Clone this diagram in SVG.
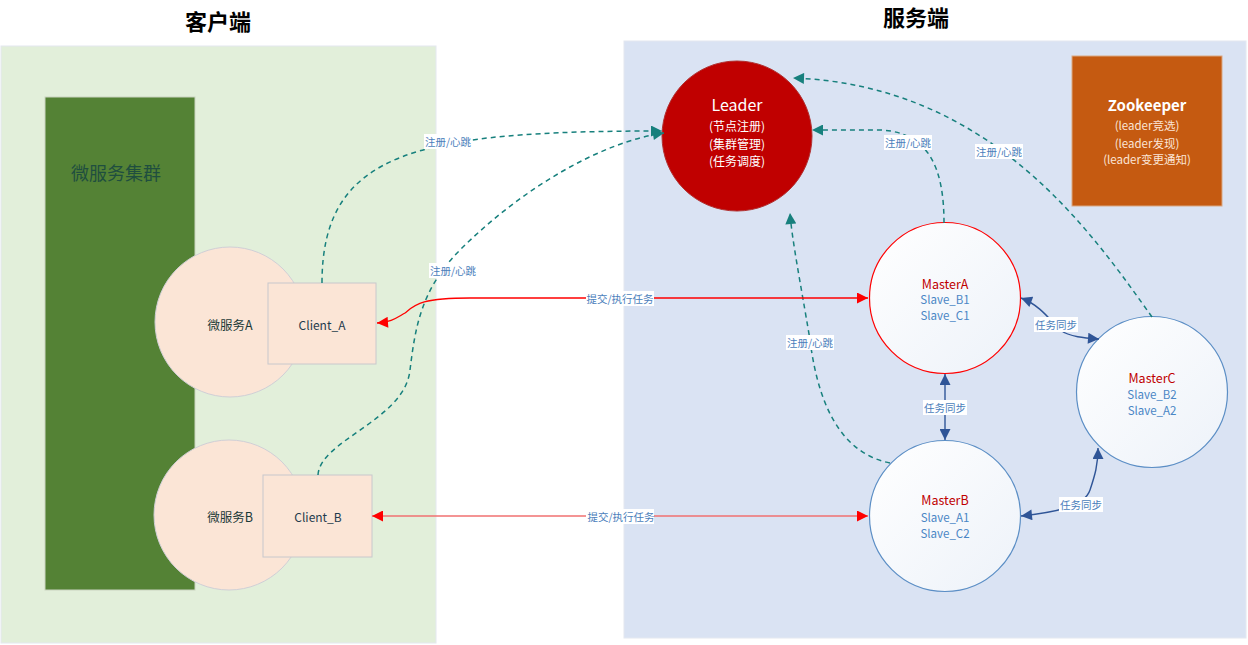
<svg xmlns="http://www.w3.org/2000/svg" width="1248" height="645" viewBox="0 0 1248 645">
<defs>
<style>
.title{font-family:"Noto Sans CJK SC",sans-serif;font-size:22px;font-weight:bold;fill:#000;text-anchor:middle}
.t{font-family:"Noto Sans CJK SC","Liberation Sans",sans-serif;text-anchor:middle;dominant-baseline:central}
.lbl{font-family:"Noto Sans CJK SC",sans-serif;font-size:10.5px;fill:#4a7ebb;text-anchor:middle;dominant-baseline:central}
.lbg{fill:#ffffff}
.dash{fill:none;stroke:#17807d;stroke-width:1.5;stroke-dasharray:5 4}
.red{fill:none;stroke:#ff0000;stroke-width:1.3}
.blue{fill:none;stroke:#2f5597;stroke-width:1.4}
.master{stroke-width:1.2}
</style>
<marker id="mt" viewBox="0 0 10 10" refX="10" refY="5" markerWidth="12" markerHeight="11" markerUnits="userSpaceOnUse" orient="auto-start-reverse"><path d="M0,0 L10,5 L0,10 Z" fill="#17807d"/></marker>
<marker id="mr" viewBox="0 0 10 10" refX="10" refY="5" markerWidth="12" markerHeight="11" markerUnits="userSpaceOnUse" orient="auto-start-reverse"><path d="M0,0 L10,5 L0,10 Z" fill="#ff0000"/></marker>
<marker id="mb" viewBox="0 0 10 10" refX="10" refY="5" markerWidth="12" markerHeight="11" markerUnits="userSpaceOnUse" orient="auto-start-reverse"><path d="M0,0 L10,5 L0,10 Z" fill="#2f5597"/></marker>
<linearGradient id="wg" x1="0" y1="0" x2="1" y2="1"><stop offset="0" stop-color="#ffffff"/><stop offset="1" stop-color="#edf2f9"/></linearGradient>
</defs>
<rect width="1248" height="645" fill="#ffffff"/>

<g id="client-panel">
<rect x="1" y="46" width="435" height="597" fill="#e2efda" stroke="#e4e8f0" stroke-width="1"/>
<text class="title" x="218" y="30">客户端</text>
</g>
<g id="server-panel">
<rect x="624" y="41" width="622" height="597" fill="#dae3f3" stroke="#e4e8f0" stroke-width="1"/>
<text class="title" x="916" y="26">服务端</text>
</g>

<g id="cluster">
<rect x="45" y="97" width="150" height="493" fill="#548235" stroke="#c9d3c0" stroke-width="1"/>
<text class="t" x="116" y="172" style="font-size:18px;fill:#1f4e3f">微服务集群</text>
</g>

<g id="msA">
<circle cx="230" cy="322" r="75" fill="#fbe5d6" stroke="#d0cfd6" stroke-width="1"/>
<text class="t" x="230" y="324" style="font-size:12.5px;fill:#1c3a38">微服务A</text>
</g>
<g id="clientA">
<rect x="268" y="283" width="108" height="81" fill="#fbe5d6" stroke="#c8c8cc" stroke-width="1"/>
<text class="t" x="322" y="324" style="font-size:12px;fill:#1f3b4d">Client_A</text>
</g>
<g id="msB">
<circle cx="229" cy="515" r="75" fill="#fbe5d6" stroke="#d0cfd6" stroke-width="1"/>
<text class="t" x="230" y="516" style="font-size:12.5px;fill:#1c3a38">微服务B</text>
</g>
<g id="clientB">
<rect x="263" y="475" width="109" height="82" fill="#fbe5d6" stroke="#c8c8cc" stroke-width="1"/>
<text class="t" x="318" y="516" style="font-size:12px;fill:#1f3b4d">Client_B</text>
</g>

<g id="leader">
<circle cx="737" cy="136" r="75" fill="#c00000" stroke="#b03030" stroke-width="1"/>
<text class="t" x="737" y="104" style="font-size:16px;fill:#ffffff">Leader</text>
<text class="t" x="737" y="125" style="font-size:12px;fill:#ffffff">(节点注册)</text>
<text class="t" x="737" y="143" style="font-size:12px;fill:#ffffff">(集群管理)</text>
<text class="t" x="737" y="160" style="font-size:12px;fill:#ffffff">(任务调度)</text>
</g>

<g id="zookeeper">
<rect x="1072" y="56" width="150" height="150" fill="#c55a11" stroke="#d9a882" stroke-width="1"/>
<text class="t" x="1147" y="104" style="font-size:15px;font-weight:bold;fill:#ffffff">Zookeeper</text>
<text class="t" x="1147" y="125" style="font-size:11.5px;fill:#fbe5d6">(leader竞选)</text>
<text class="t" x="1147" y="143" style="font-size:11.5px;fill:#fbe5d6">(leader发现)</text>
<text class="t" x="1147" y="159" style="font-size:11.5px;fill:#fbe5d6">(leader变更通知)</text>
</g>

<g id="masterA">
<circle class="master" cx="945" cy="298" r="75.5" fill="url(#wg)" stroke="#ff0000"/>
<text class="t" x="945" y="283" style="font-size:12.5px;fill:#c00000">MasterA</text>
<text class="t" x="945" y="299" style="font-size:11.5px;fill:#4a86c5">Slave_B1</text>
<text class="t" x="945" y="315" style="font-size:11.5px;fill:#4a86c5">Slave_C1</text>
</g>
<g id="masterB">
<circle class="master" cx="945" cy="516" r="75.5" fill="url(#wg)" stroke="#5b8ec5"/>
<text class="t" x="945" y="499" style="font-size:12.5px;fill:#c00000">MasterB</text>
<text class="t" x="945" y="517" style="font-size:11.5px;fill:#4a86c5">Slave_A1</text>
<text class="t" x="945" y="533" style="font-size:11.5px;fill:#4a86c5">Slave_C2</text>
</g>
<g id="masterC">
<circle class="master" cx="1152" cy="392" r="75.5" fill="url(#wg)" stroke="#5b8ec5"/>
<text class="t" x="1152" y="377" style="font-size:12.5px;fill:#c00000">MasterC</text>
<text class="t" x="1152" y="394" style="font-size:11.5px;fill:#4a86c5">Slave_B2</text>
<text class="t" x="1152" y="410" style="font-size:11.5px;fill:#4a86c5">Slave_A2</text>
</g>

<g id="connectors">
<path class="dash" d="M322,283 C322,150 420,131 662,131" marker-end="url(#mt)"/>
<path class="dash" d="M318,475 C320,440 405,420 410,370 C415,330 420,290 460,250 C520,190 600,142 664,133" marker-end="url(#mt)"/>
<path class="dash" d="M944,223 C944,170 930,132 880,130 L812,130" marker-end="url(#mt)"/>
<path class="dash" d="M1152,317 C1090,230 990,85 793,78" marker-end="url(#mt)"/>
<path class="dash" d="M890,463 C850,455 820,420 810,340 C800,280 792,240 790,213" marker-end="url(#mt)"/>

<path class="red" d="M377,323 C392,322 396,318 405,313 C415,305 420,298 470,298 L868,298" marker-start="url(#mr)" marker-end="url(#mr)"/>
<path class="red" d="M372,516 L868,516" style="stroke:#f07070;stroke-width:1.6" marker-start="url(#mr)" marker-end="url(#mr)"/>

<path class="blue" d="M945,374 L945,440" marker-start="url(#mb)" marker-end="url(#mb)"/>
<path class="blue" d="M1021,298 C1040,305 1050,320 1060,330 C1070,337 1085,338 1099,339" marker-start="url(#mb)" marker-end="url(#mb)"/>
<path class="blue" d="M1021,516 C1060,512 1085,505 1090,490 C1095,475 1098,465 1098,448" marker-start="url(#mb)" marker-end="url(#mb)"/>

<rect class="lbg" x="424" y="134" width="48" height="15"/><text class="lbl" x="448" y="141">注册/心跳</text>
<rect class="lbg" x="429" y="263" width="48" height="15"/><text class="lbl" x="453" y="270">注册/心跳</text>
<rect class="lbg" x="884" y="135" width="48" height="15"/><text class="lbl" x="908" y="142">注册/心跳</text>
<rect class="lbg" x="975" y="144" width="48" height="15"/><text class="lbl" x="999" y="151">注册/心跳</text>
<rect class="lbg" x="786" y="335" width="48" height="15"/><text class="lbl" x="810" y="342">注册/心跳</text>
<rect class="lbg" x="586" y="291" width="68" height="15"/><text class="lbl" x="620" y="298">提交/执行任务</text>
<rect class="lbg" x="586" y="509" width="68" height="15"/><text class="lbl" x="621" y="516">提交/执行任务</text>
<rect class="lbg" x="923" y="400" width="44" height="15"/><text class="lbl" x="945" y="407">任务同步</text>
<rect class="lbg" x="1034" y="317" width="44" height="15"/><text class="lbl" x="1056" y="324">任务同步</text>
<rect class="lbg" x="1059" y="497" width="44" height="15"/><text class="lbl" x="1081" y="504">任务同步</text>
</g>
</svg>
